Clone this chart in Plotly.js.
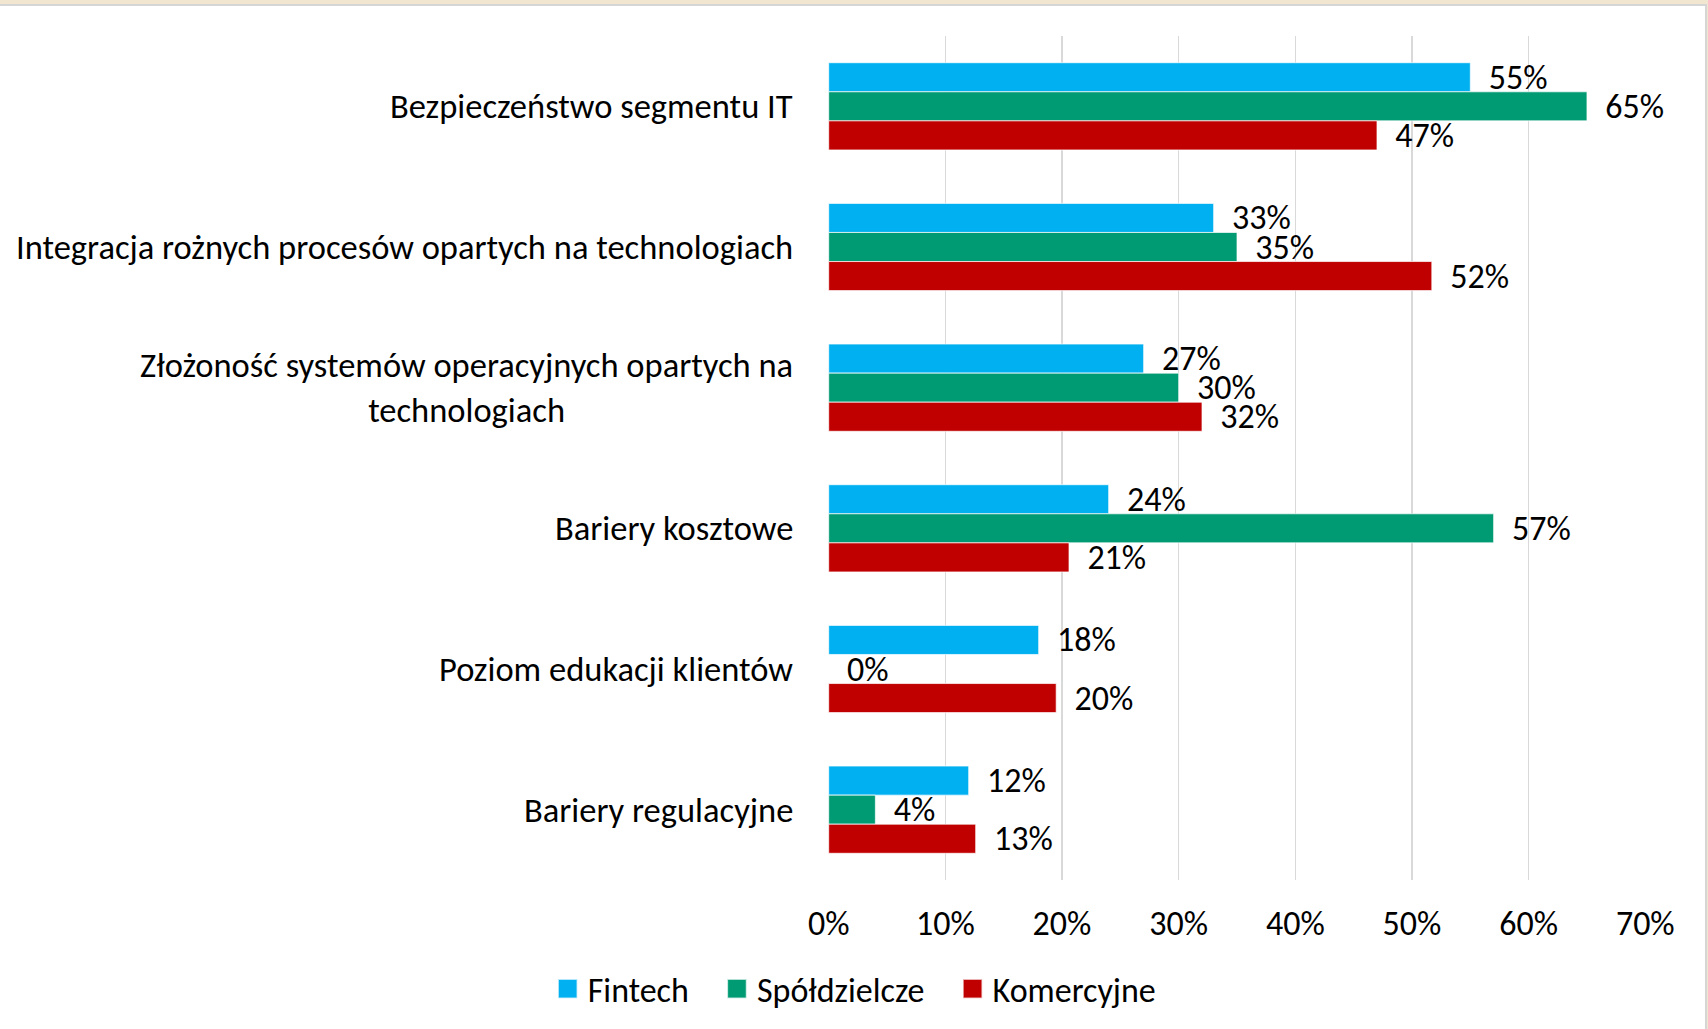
<!DOCTYPE html>
<html>
<head>
<meta charset="utf-8">
<script src="https://cdn.plot.ly/plotly-3.0.1.min.js"></script>
<style>
  html, body { margin: 0; padding: 0; background: #f1e6cf; width: 1708px; height: 1029px; overflow: hidden; }
  #frame { position: absolute; left: 0; top: 4px; width: 1705px; height: 1025px;
           border-top: 2px solid #d6d6d6; border-right: 2px solid #d6d6d6; background: #ffffff; }
  #chart { width: 1705px; height: 1023px; }
</style>
</head>
<body>
<div id="frame"><div id="chart"></div></div>
<script>
// ---- data ----
const categories = [
  "Bezpieczeństwo segmentu IT",
  "Integracja rożnych procesów opartych na technologiach",
  "Złożoność systemów operacyjnych opartych na<br>technologiach",
  "Bariery kosztowe",
  "Poziom edukacji klientów",
  "Bariery regulacyjne"
];
const seriesNames = ["Fintech", "Spółdzielcze", "Komercyjne"];
const fintech      = [55, 33, 27, 24, 18, 12];
const spoldzielcze = [65, 35, 30, 57, 0, 4];
const komercyjne   = [47, 51.7, 32, 20.6, 19.5, 12.6];
const fintechLabels      = ["55%", "33%", "27%", "24%", "18%", "12%"];
const spoldzielczeLabels = ["65%", "35%", "30%", "57%", "0%", "4%"];
const komercyjneLabels   = ["47%", "52%", "32%", "21%", "20%", "13%"];
const colors = ["#00B0F0", "#009A73", "#C00000"];
const xTickVals = [0, 10, 20, 30, 40, 50, 60, 70];

// ---- chart ----
const FONT = "Carlito, Calibri, Lato, sans-serif";
const FS = 34;
const values = [fintech, spoldzielcze, komercyjne];
const labels = [fintechLabels, spoldzielczeLabels, komercyjneLabels];
const pad = "\u00a0\u00a0";
const legendPad = ["\u00a0\u00a0\u00a0", "\u00a0\u00a0\u00a0", ""];

const traces = seriesNames.map((name, i) => ({
  type: "bar",
  orientation: "h",
  name: name + legendPad[i],
  x: values[i],
  y: categories,
  text: labels[i].map(t => pad + t),
  textposition: "outside",
  constraintext: "none",
  cliponaxis: false,
  outsidetextfont: { family: FONT, size: FS, color: "#000000" },
  marker: { color: colors[i], line: { color: "rgba(255,255,255,0.7)", width: 1 } },
  hoverinfo: "skip"
}));

const annotations = categories.map(c => ({
  xref: "paper", x: 0, xanchor: "right", xshift: -33,
  yref: "y", y: c, yanchor: "middle",
  text: c, align: "center", showarrow: false,
  font: { family: FONT, size: 34.5, color: "#000000" }
}));

const layout = {
  width: 1705, height: 1023,
  margin: { l: 828, r: 59, t: 30, b: 149, pad: 0 },
  paper_bgcolor: "#ffffff",
  plot_bgcolor: "#ffffff",
  font: { family: FONT, size: FS, color: "#000000" },
  barmode: "group",
  bargap: 0.38,
  bargroupgap: 0,
  showlegend: true,
  legend: {
    orientation: "h", xref: "container", x: 0.501, xanchor: "center",
    yref: "container", y: 0.039, yanchor: "middle",
    font: { family: FONT, size: FS, color: "#000000" },
    traceorder: "normal"
  },
  xaxis: {
    range: [-0.06, 70.06],
    tickvals: xTickVals,
    ticktext: xTickVals.map(v => v + "%"),
    showgrid: true, gridcolor: "#d9d9d9", gridwidth: 1.5,
    zeroline: false, showline: false, ticks: "",
    ticklabelstandoff: 20,
    tickfont: { family: FONT, size: FS, color: "#000000" },
    fixedrange: true
  },
  yaxis: {
    type: "category",
    categoryorder: "array", categoryarray: categories,
    range: [5.5, -0.5],
    showticklabels: false, showgrid: false, zeroline: false, showline: false, ticks: "",
    fixedrange: true
  },
  annotations: annotations
};

Plotly.newPlot("chart", traces, layout, { staticPlot: true, displayModeBar: false }).then(gd => {
  // enlarge the legend colour squares to match the reference (keep plotly's own placement)
  gd.querySelectorAll(".legend .legendpoints path").forEach(p => {
    const t = p.getAttribute("transform") || "";
    p.setAttribute("transform", (t + " scale(1.6)").trim());
  });
});
</script>
</body>
</html>
